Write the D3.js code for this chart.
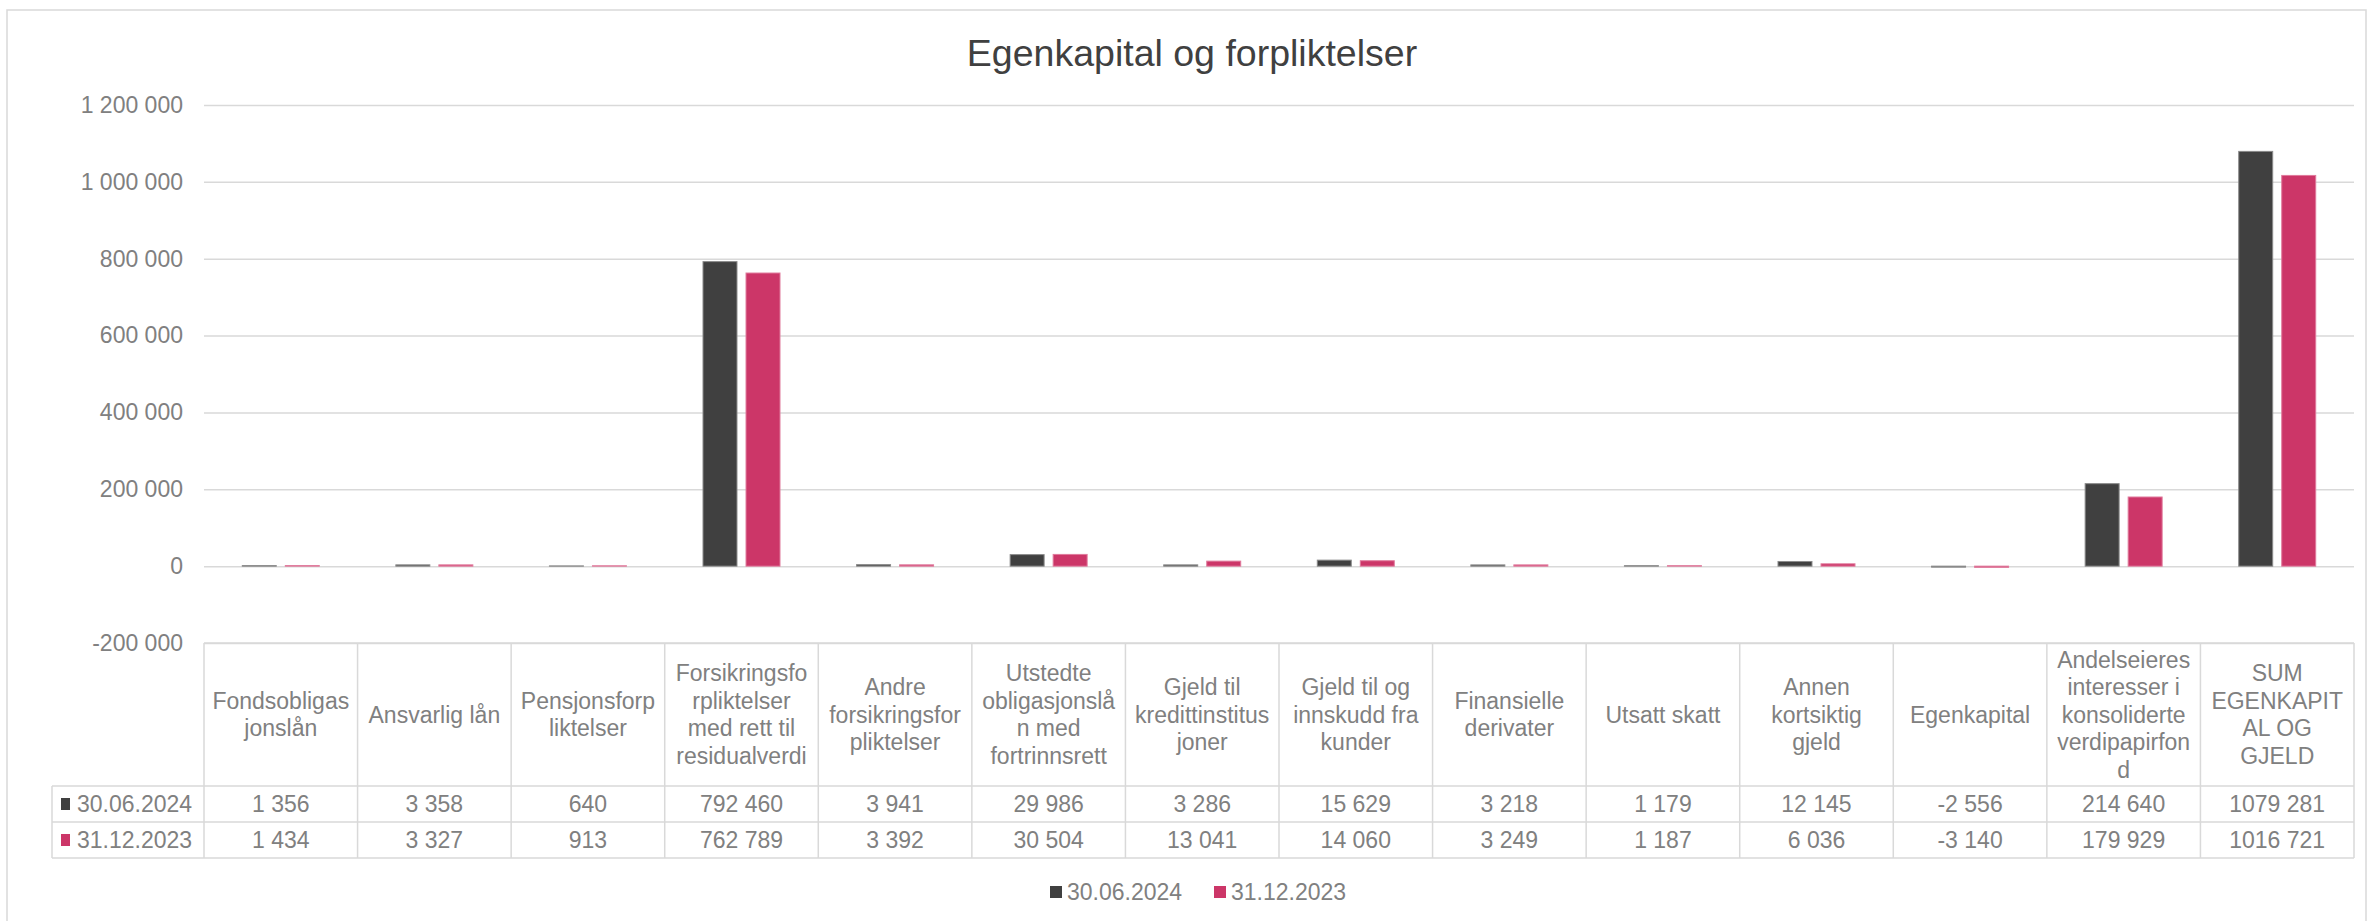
<!DOCTYPE html>
<html>
<head>
<meta charset="utf-8">
<script src="https://cdn.jsdelivr.net/npm/d3@7"></script>
<style>
    body { margin: 0; background: #fff; }
    text { font-family: "Liberation Sans", Arial, sans-serif; }
</style>
</head>
<body>
<svg id="chart"></svg>
<script>
// data
var categories = [
    'Fondsobligasjonslån', 'Ansvarlig lån', 'Pensjonsforpliktelser',
    'Forsikringsforpliktelser med rett til residualverdi', 'Andre forsikringsforpliktelser',
    'Utstedte obligasjonslån med fortrinnsrett', 'Gjeld til kredittinstitusjoner',
    'Gjeld til og innskudd fra kunder', 'Finansielle derivater', 'Utsatt skatt',
    'Annen kortsiktig gjeld', 'Egenkapital',
    'Andelseieres interesser i konsoliderte verdipapirfond', 'SUM EGENKAPITAL OG GJELD'
]
// the header labels as they wrap in the table
var categoryLines = [
    ['Fondsobligas', 'jonslån'],
    ['Ansvarlig lån'],
    ['Pensjonsforp', 'liktelser'],
    ['Forsikringsfo', 'rpliktelser', 'med rett til', 'residualverdi'],
    ['Andre', 'forsikringsfor', 'pliktelser'],
    ['Utstedte', 'obligasjonslå', 'n med', 'fortrinnsrett'],
    ['Gjeld til', 'kredittinstitus', 'joner'],
    ['Gjeld til og', 'innskudd fra', 'kunder'],
    ['Finansielle', 'derivater'],
    ['Utsatt skatt'],
    ['Annen', 'kortsiktig', 'gjeld'],
    ['Egenkapital'],
    ['Andelseieres', 'interesser i', 'konsoliderte', 'verdipapirfon', 'd'],
    ['SUM', 'EGENKAPIT', 'AL OG', 'GJELD']
]
var seriesNames = ['30.06.2024', '31.12.2023']
var values2024 = [1356, 3358, 640, 792460, 3941, 29986, 3286, 15629, 3218, 1179, 12145, -2556, 214640, 1079281]
var values2023 = [1434, 3327, 913, 762789, 3392, 30504, 13041, 14060, 3249, 1187, 6036, -3140, 179929, 1016721]
var yTicks = [-200000, 0, 200000, 400000, 600000, 800000, 1000000, 1200000]

var seriesValues = [values2024, values2023]
var fills = ['#404040', '#cc3668']
var strokes = ['#8a8a8a', '#e07a9c']

var width = 2371
var height = 921
var plotLeft = 204, plotRight = 2354
var plotTop = 105, tableTop = 643, headerBottom = 786, rowH = 36
var legendColLeft = 52
var textGrey = '#808080'
var lineGrey = '#d9d9d9'

var svg = d3.select('#chart')
    .attr('width', width)
    .attr('height', height)

// chart border
svg.append('rect')
    .attr('x', 7).attr('y', 10)
    .attr('width', 2359).attr('height', 930)
    .attr('fill', 'none')
    .attr('stroke', lineGrey)
    .attr('stroke-width', 1.5)

// scales
var yScale = d3.scaleLinear()
    .domain([yTicks[0], yTicks[yTicks.length - 1]])
    .range([tableTop, plotTop])

var xScale = d3.scaleBand()
    .domain(categories)
    .range([plotLeft, plotRight])

var bw = xScale.bandwidth()
var xSeries = d3.scaleBand()
    .domain(seriesNames)
    .range([bw / 2 - 38.5, bw / 2 + 38.5])
    .paddingInner(0.21)

var locale = d3.formatLocale({decimal: ',', thousands: ' ', grouping: [3], currency: ['', ''], minus: '-'})
var tickFmt = locale.format(',')

// excel style "### ###"
function cellFmt(v) {
    var a = Math.abs(v), s = v < 0 ? '-' : ''
    if (a < 1000) return s + a
    return s + Math.floor(a / 1000) + ' ' + String(a % 1000).padStart(3, '0')
}

// y axis with gridlines
var yAxis = d3.axisLeft(yScale)
    .tickValues(yTicks)
    .tickSize(-(plotRight - plotLeft))
    .tickPadding(21)
    .tickFormat(tickFmt)

var gy = svg.append('g')
    .attr('transform', 'translate(' + plotLeft + ',0)')
    .call(yAxis)
gy.select('.domain').remove()
gy.selectAll('.tick line')
    .attr('stroke', lineGrey)
    .attr('stroke-width', 1.5)
gy.selectAll('.tick text')
    .attr('fill', textGrey)
    .style('font-size', '23px')

// bars
seriesNames.forEach(function(name, s) {
    svg.append('g')
        .selectAll('rect')
        .data(seriesValues[s])
        .enter()
        .append('rect')
            .attr('x', (d, i) => xScale(categories[i]) + xSeries(name))
            .attr('y', d => yScale(Math.max(d, 0)))
            .attr('width', xSeries.bandwidth())
            .attr('height', d => Math.abs(yScale(d) - yScale(0)))
            .attr('fill', fills[s])
            .attr('stroke', strokes[s])
            .attr('stroke-width', 1)
})

// data table
var table = svg.append('g')
var tableBottom = headerBottom + rowH * seriesNames.length

// horizontal lines
table.append('line')
    .attr('x1', plotLeft).attr('x2', plotRight)
    .attr('y1', tableTop).attr('y2', tableTop)
d3.range(seriesNames.length + 1).forEach(function(r) {
    var yy = headerBottom + r * rowH
    table.append('line')
        .attr('x1', legendColLeft).attr('x2', plotRight)
        .attr('y1', yy).attr('y2', yy)
})
// vertical lines
table.append('line')
    .attr('x1', legendColLeft).attr('x2', legendColLeft)
    .attr('y1', headerBottom).attr('y2', tableBottom)
categories.forEach(function(c) {
    var xx = xScale(c)
    table.append('line')
        .attr('x1', xx).attr('x2', xx)
        .attr('y1', tableTop).attr('y2', tableBottom)
})
table.append('line')
    .attr('x1', plotRight).attr('x2', plotRight)
    .attr('y1', tableTop).attr('y2', tableBottom)
table.selectAll('line')
    .attr('stroke', lineGrey)
    .attr('stroke-width', 1.5)

// header labels
var headerMid = (tableTop + headerBottom) / 2
categories.forEach(function(c, i) {
    var lines = categoryLines[i]
    var t = table.append('text')
        .attr('text-anchor', 'middle')
        .attr('fill', textGrey)
        .style('font-size', '23px')
    lines.forEach(function(l, k) {
        t.append('tspan')
            .attr('x', xScale(c) + bw / 2)
            .attr('y', headerMid + (k - (lines.length - 1) / 2) * 27.5)
            .attr('dy', '0.35em')
            .text(l)
    })
})

// value rows
seriesNames.forEach(function(name, s) {
    var rowMid = headerBottom + rowH * s + rowH / 2
    table.append('rect')
        .attr('x', 61).attr('y', rowMid - 6)
        .attr('width', 9).attr('height', 12)
        .attr('fill', fills[s])
    table.append('text')
        .attr('x', 77).attr('y', rowMid)
        .attr('dy', '0.35em')
        .attr('fill', textGrey)
        .style('font-size', '23px')
        .text(name)
    table.append('g')
        .selectAll('text')
        .data(seriesValues[s])
        .enter()
        .append('text')
            .attr('x', (d, i) => xScale(categories[i]) + bw / 2)
            .attr('y', rowMid)
            .attr('dy', '0.35em')
            .attr('text-anchor', 'middle')
            .attr('fill', textGrey)
            .style('font-size', '23px')
            .text(d => cellFmt(d))
})

// legend
var legendX = [1050, 1214]
seriesNames.forEach(function(name, s) {
    svg.append('rect')
        .attr('x', legendX[s]).attr('y', 886)
        .attr('width', 12).attr('height', 12)
        .attr('fill', fills[s])
    svg.append('text')
        .attr('x', legendX[s] + 17).attr('y', 892)
        .attr('dy', '0.35em')
        .attr('fill', textGrey)
        .style('font-size', '23px')
        .text(name)
})

// heading
svg.append('text')
    .text('Egenkapital og forpliktelser')
    .attr('text-anchor', 'middle')
    .attr('x', 1192)
    .attr('y', 66)
    .attr('fill', '#404040')
    .style('font-size', '37.5px')
</script>
</body>
</html>
